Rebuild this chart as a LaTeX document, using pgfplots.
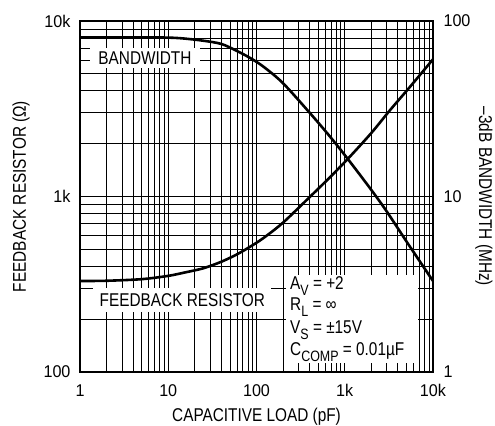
\documentclass[border=0pt]{standalone}
\usepackage{fontspec}
\setmainfont{Liberation Sans}[FakeStretch=0.83]
\newfontfamily\tickfont{Liberation Sans}[FakeStretch=0.95]
\usepackage{pgfplots}
\pgfplotsset{compat=1.18}
\newcommand\sub[1]{\raisebox{-6bp}{\fontsize{15bp}{15bp}\selectfont#1}}
\pgfplotstableread{
x y
1 80.7
2 80.7
5 80.6
10 80.4
15 79.5
25 77.2
40 74.0
60 67.5
85 61.5
120 54.9
200 44.2
405 29.8
683 21.9
1100 16.2
2000 10.9
3000 8.2
5060 5.5
10000 3.3
}\bwtable
\pgfplotstableread{
x y
1 330
2 331
5 338
10 353
15 368
25 390
40 425
60 468
85 518
120 580
200 710
405 998
683 1290
1100 1652
2000 2300
3270 3111
5510 4226
10000 6050
}\rftable
\begin{document}
\begin{tikzpicture}
\useasboundingbox (0,0) rectangle (495bp,426bp);
\pgfplotsset{every axis/.append style={font=\fontsize{18.5bp}{21bp}\selectfont},
  every tick label/.append style={font=\tickfont\fontsize{17bp}{20bp}\selectfont}}
\begin{axis}[at={(80bp,54bp)}, anchor=south west,
  width=353bp, height=351bp, scale only axis,
  xmode=log, ymode=log, xmin=1, xmax=10000, ymin=100, ymax=10000,
  xtick={1,10,100,1000,10000}, xticklabels={1,10,100,1k,10k},
  ytick={100,1000,10000}, yticklabels={100,1k,10k},
  minor xtick={2,3,4,5,6,7,8,9,20,30,40,50,60,70,80,90,200,300,400,500,600,700,800,900,2000,3000,4000,5000,6000,7000,8000,9000},
  minor ytick={200,300,400,500,600,700,800,900,2000,3000,4000,5000,6000,7000,8000,9000},
  grid=both,
  major grid style={black, line width=0.8bp},
  minor grid style={black, line width=0.8bp},
  major tick length=0pt, minor tick length=0pt,
  axis line style={line width=1.2bp},
  xticklabel style={yshift=-9bp},
  yticklabel style={xshift=-6bp},
  /pgf/number format/assume math mode=true,
  xlabel={CAPACITIVE LOAD (pF)},
  ylabel={FEEDBACK RESISTOR (Ω)},
  xlabel style={at={(axis description cs:0.5,-0.128)}, anchor=center},
  ylabel style={at={(axis description cs:-0.167,0.5)}, anchor=center},
]
\addplot[black, line width=2.6bp, smooth, tension=0.5] table[x=x,y=y] {\rftable};
\node[fill=white, inner xsep=8.5bp, inner ysep=3.4bp, text height=13.2bp, text depth=0pt] at (rel axis cs:0.184,0.895) {BANDWIDTH};
\node[fill=white, inner xsep=6.5bp, inner ysep=5.4bp, text height=13.2bp, text depth=0pt] at (rel axis cs:0.290,0.205) {FEEDBACK RESISTOR};
\fill[white] (rel axis cs:0.5836,0.0256) rectangle (rel axis cs:0.9575,0.2764);
\node[anchor=base west, inner sep=0pt] at (rel axis cs:0.595,0.2356) {A\sub{V} = +2};
\node[anchor=base west, inner sep=0pt] at (rel axis cs:0.595,0.1738) {R\sub{L} = ∞};
\node[anchor=base west, inner sep=0pt] at (rel axis cs:0.595,0.1105) {V\sub{S} = ±15V};
\node[anchor=base west, inner sep=0pt] at (rel axis cs:0.595,0.0476) {C\sub{COMP} = 0.01µF};
\end{axis}
\begin{axis}[at={(80bp,54bp)}, anchor=south west,
  width=353bp, height=351bp, scale only axis,
  xmode=log, ymode=log, xmin=1, xmax=10000, ymin=1, ymax=100,
  axis x line=none, axis y line*=right,
  ytick={1,10,100}, yticklabels={1,10,100}, minor ytick={},
  major tick length=0pt, minor tick length=0pt,
  axis line style={line width=1.2bp},
  yticklabel style={xshift=7bp},
  ylabel={–3dB BANDWIDTH (MHz)},
  ylabel style={at={(axis description cs:1.144,0.5)}, anchor=center, rotate=180},
]
\addplot[black, line width=2.6bp, smooth, tension=0.5] table[x=x,y=y] {\bwtable};
\end{axis}
\end{tikzpicture}
\end{document}
